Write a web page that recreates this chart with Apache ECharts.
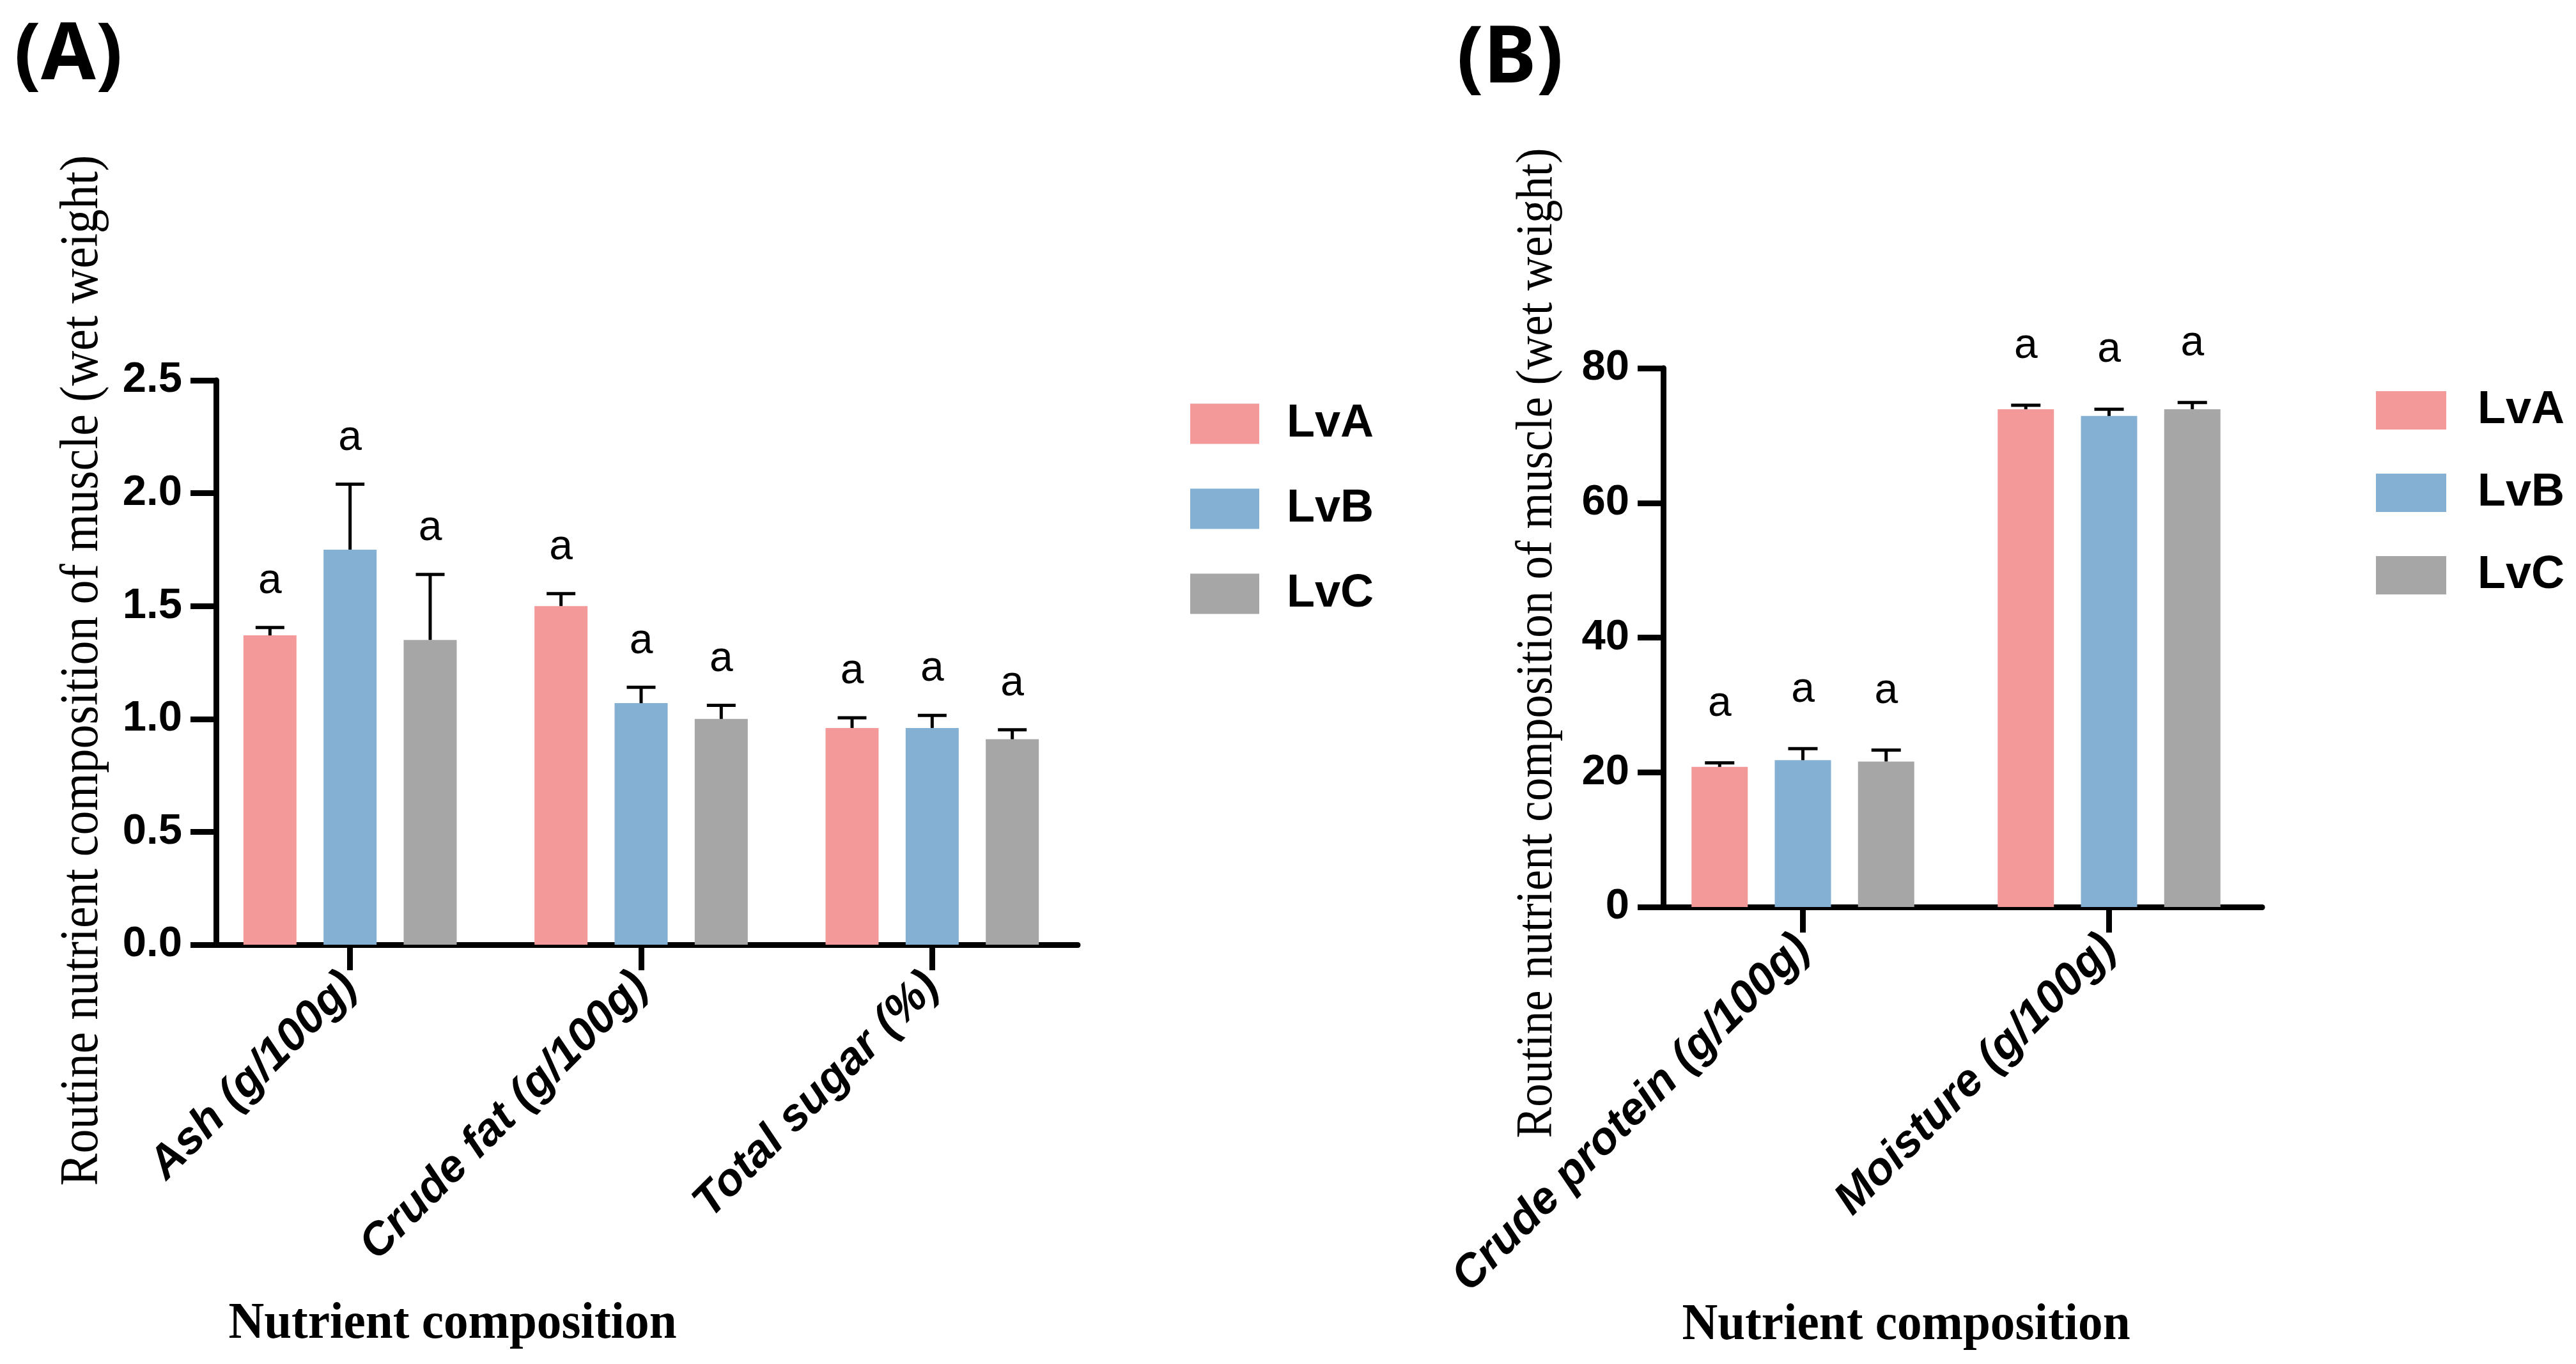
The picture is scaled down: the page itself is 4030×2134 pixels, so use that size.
<!DOCTYPE html>
<html>
<head>
<meta charset="utf-8">
<script src="https://cdn.jsdelivr.net/npm/echarts@6/dist/echarts.min.js"></script>
<style>
html,body{margin:0;padding:0;background:#ffffff;}
#chart{width:4030px;height:2134px;}
</style>
</head>
<body>
<div id="chart"></div>
<script>
// ---------------- data ----------------
const groups = ['LvA', 'LvB', 'LvC'];

// Panel A
const catsA = ['Ash (g/100g)', 'Crude fat (g/100g)', 'Total sugar (%)'];
const lvaA = [1.37, 1.50, 0.96];
const lvbA = [1.75, 1.07, 0.96];
const lvcA = [1.35, 1.00, 0.91];
const sdLvaA = [0.035, 0.055, 0.045];
const sdLvbA = [0.29, 0.07, 0.056];
const sdLvcA = [0.29, 0.06, 0.042];
const letLvaA = ['a', 'a', 'a'];
const letLvbA = ['a', 'a', 'a'];
const letLvcA = ['a', 'a', 'a'];

// Panel B
const catsB = ['Crude protein (g/100g)', 'Moisture (g/100g)'];
const lvaB = [20.8, 73.9];
const lvbB = [21.8, 72.9];
const lvcB = [21.6, 73.9];
const sdLvaB = [0.6, 0.6];
const sdLvbB = [1.7, 1.0];
const sdLvcB = [1.7, 1.0];
const letLvaB = ['a', 'a'];
const letLvbB = ['a', 'a'];
const letLvcB = ['a', 'a'];

const yTitle = 'Routine nutrient composition of muscle (wet weight)';
const xTitle = 'Nutrient composition';

// ---------------- style ----------------
const colors = ['#F4999A', '#84B0D3', '#A6A6A6'];
const SANS = '"Liberation Sans", Arial, sans-serif';
const SERIF = '"Liberation Serif", "Times New Roman", serif';

const panelA = { barW: 83, gap: 0.51, cap: 45, letterGap: 72 };
const panelB = { barW: 88, gap: 0.48, cap: 46, letterGap: 92 };

function barSeries(name, idx, values, cfg, gi) {
  return {
    type: 'bar', name: name, xAxisIndex: gi, yAxisIndex: gi,
    data: values, barWidth: cfg.barW, barGap: Math.round(cfg.gap * 100) + '%',
    itemStyle: { color: colors[idx] },
    emphasis: { disabled: true },
    z: 2
  };
}

function errSeries(idx, values, sds, letters, cfg, gi) {
  return {
    type: 'custom', name: 'err' + gi + '_' + idx, xAxisIndex: gi, yAxisIndex: gi,
    data: values.map((m, k) => [k, m, sds[k]]),
    z: 10, clip: false, silent: true,
    renderItem: function (params, api) {
      const k = api.value(0), m = api.value(1), sd = api.value(2);
      const step = cfg.barW * (1 + cfg.gap);
      const cx = api.coord([k, 0])[0] + (idx - 1) * step;
      const yb = api.coord([k, m])[1];
      const yt = api.coord([k, m + sd])[1];
      const h = cfg.cap / 2;
      return {
        type: 'group',
        children: [
          { type: 'line', shape: { x1: cx, y1: yb, x2: cx, y2: yt }, style: { stroke: '#000', lineWidth: 5 } },
          { type: 'line', shape: { x1: cx - h, y1: yt, x2: cx + h, y2: yt }, style: { stroke: '#000', lineWidth: 5 } },
          { type: 'text', style: { text: letters[k], x: cx, y: yt - cfg.letterGap, align: 'center', verticalAlign: 'middle', fontSize: 66, fontFamily: SANS, fill: '#000' } }
        ]
      };
    }
  };
}

function xAxisCfg(gi, cats) {
  return {
    type: 'category', gridIndex: gi, data: cats,
    axisLine: { show: true, lineStyle: { color: '#000', width: 9 } },
    axisTick: { show: true, alignWithLabel: true, length: 40, lineStyle: { color: '#000', width: 9 } },
    axisLabel: { interval: 0, rotate: 45, margin: 55, padding: [30, 0, 0, 0], fontSize: 71, fontWeight: 'bold', fontStyle: 'italic', fontFamily: SANS, color: '#000' },
    splitLine: { show: false }
  };
}

function yAxisCfg(gi, max, interval, offset, fmt) {
  return {
    type: 'value', gridIndex: gi, min: 0, max: max, interval: interval, offset: offset,
    axisLine: { show: true, lineStyle: { color: '#000', width: 9 } },
    axisTick: { show: true, length: 40, lineStyle: { color: '#000', width: 9 } },
    axisLabel: { margin: 53, fontSize: 67, fontWeight: 'bold', fontFamily: SANS, color: '#000', formatter: fmt },
    splitLine: { show: false }
  };
}

function legendCfg(left, top, w, h, gap, pad) {
  return {
    data: groups, orient: 'vertical', left: left, top: top,
    itemWidth: w, itemHeight: h, itemGap: gap, icon: 'rect',
    selectedMode: false,
    textStyle: { fontSize: 72, fontWeight: 'bold', fontFamily: SANS, color: '#000', lineHeight: h, padding: [0, 0, 0, pad] }
  };
}

const chart = echarts.init(document.getElementById('chart'), null, { renderer: 'canvas' });

const option = {
  backgroundColor: '#ffffff',
  animation: false,
  grid: [
    { left: 320, top: 595, width: 1366, height: 883, outerBoundsMode: 'none', containLabel: false },
    { left: 2581, top: 576, width: 958, height: 843, outerBoundsMode: 'none', containLabel: false }
  ],
  xAxis: [xAxisCfg(0, catsA), xAxisCfg(1, catsB)],
  yAxis: [
    yAxisCfg(0, 2.5, 0.5, -18, v => v.toFixed(1)),
    yAxisCfg(1, 80, 20, -21, v => String(v))
  ],
  legend: [
    legendCfg(1857, 622, 108, 63, 61, 38),
    legendCfg(3712, 601, 110, 60, 57, 44)
  ],
  series: [
    barSeries('LvA', 0, lvaA, panelA, 0),
    barSeries('LvB', 1, lvbA, panelA, 0),
    barSeries('LvC', 2, lvcA, panelA, 0),
    errSeries(0, lvaA, sdLvaA, letLvaA, panelA, 0),
    errSeries(1, lvbA, sdLvbA, letLvbA, panelA, 0),
    errSeries(2, lvcA, sdLvcA, letLvcA, panelA, 0),
    barSeries('LvA', 0, lvaB, panelB, 1),
    barSeries('LvB', 1, lvbB, panelB, 1),
    barSeries('LvC', 2, lvcB, panelB, 1),
    errSeries(0, lvaB, sdLvaB, letLvaB, panelB, 1),
    errSeries(1, lvbB, sdLvbB, letLvbB, panelB, 1),
    errSeries(2, lvcB, sdLvcB, letLvcB, panelB, 1)
  ],
  graphic: [
    { type: 'text', x: 22, y: 89, style: { text: '(A)', fontSize: 124, fontWeight: 'bold', fontFamily: '"Noto Sans", sans-serif', fill: '#000', verticalAlign: 'middle' } },
    { type: 'text', x: 2279, y: 94, style: { text: '(B)', fontSize: 124, fontWeight: 'bold', fontFamily: '"Noto Sans", sans-serif', fill: '#000', verticalAlign: 'middle' } },
    { type: 'text', x: 130, y: 1049, rotation: Math.PI / 2, scaleY: 1.1, style: { text: yTitle, fontSize: 76, fontFamily: SERIF, fill: '#000', align: 'center', verticalAlign: 'middle' } },
    { type: 'text', x: 2406, y: 1006, rotation: Math.PI / 2, scaleY: 1.1, style: { text: yTitle, fontSize: 73, fontFamily: SERIF, fill: '#000', align: 'center', verticalAlign: 'middle' } },
    { type: 'text', x: 708, y: 2072, scaleX: 0.965, style: { text: xTitle, fontSize: 80, fontWeight: 'bold', fontFamily: SERIF, fill: '#000', align: 'center', verticalAlign: 'middle' } },
    { type: 'text', x: 2982, y: 2074, scaleX: 0.965, style: { text: xTitle, fontSize: 80, fontWeight: 'bold', fontFamily: SERIF, fill: '#000', align: 'center', verticalAlign: 'middle' } }
  ]
};

chart.setOption(option);
</script>
</body>
</html>
